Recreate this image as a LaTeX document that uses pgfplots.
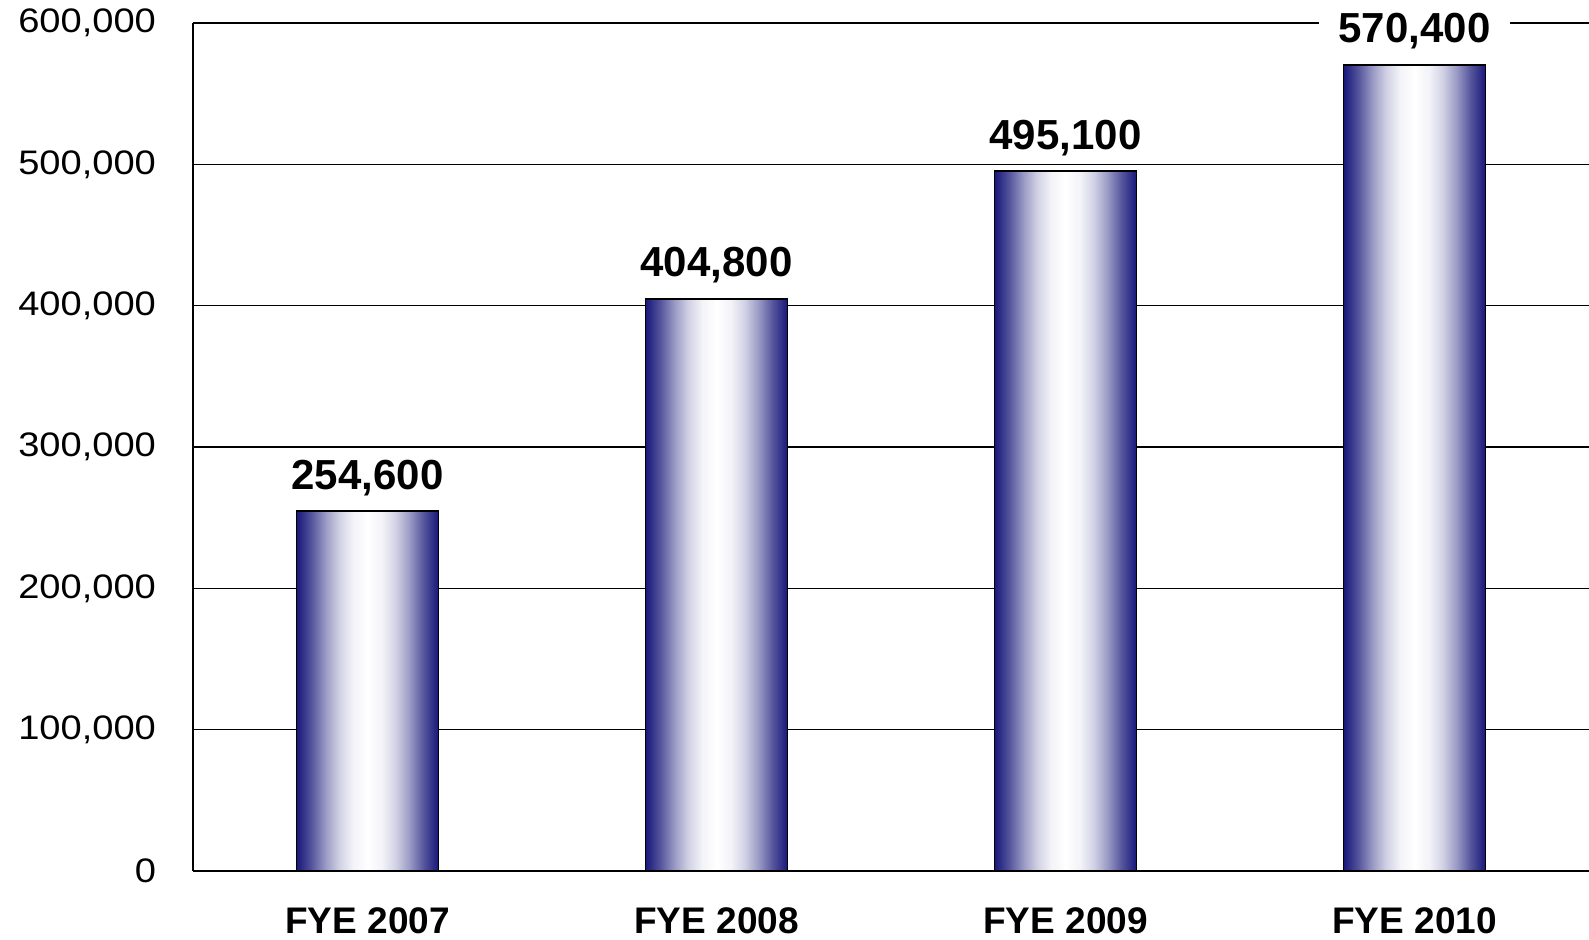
\documentclass[border=0pt]{standalone}
\usepackage{pgfplots}
\pgfplotsset{compat=1.18}
\usepackage{graphicx}
\usepackage{fontspec}
\setmainfont{Liberation Sans}

\definecolor{nv}{RGB}{24,24,122}
% navy at both edges of a bar, white down its middle
\pgfdeclarehorizontalshading{barshade}{100bp}{%
  color(0bp)=(nv); color(25bp)=(nv);
  color(30bp)=(nv!75!white); color(35bp)=(nv!45!white);
  color(40bp)=(nv!20!white); color(45bp)=(nv!5!white);
  color(50bp)=(white);
  color(55bp)=(nv!5!white); color(60bp)=(nv!20!white);
  color(65bp)=(nv!45!white); color(70bp)=(nv!75!white);
  color(75bp)=(nv); color(100bp)=(nv)}

\newcommand\wide[1]{\scalebox{1.12}[1]{#1}}

\begin{document}
\begin{tikzpicture}
\begin{axis}[
  at={(0,0)}, anchor=south west,
  scale only axis,
  width=698pt, height=424pt,
  xmin=0.5, xmax=4.5,
  ymin=0, ymax=600000,
  ytick={0,100000,...,600000},
  xtick={1,2,3,4},
  xticklabels={FYE 2007, FYE 2008, FYE 2009, FYE 2010},
  scaled y ticks=false,
  /pgf/number format/.cd, fixed, 1000 sep={,}, assume math mode=true,
  /pgfplots/.cd,
  yticklabel={\wide{\pgfmathprintnumber{\tick}}},
  axis x line*=bottom, axis y line*=left,
  axis line style={black, line width=1pt, -},
  ymajorgrids,
  grid style={black, line width=0.75pt},
  major tick length=0pt,
  yticklabel style={font=\fontsize{17}{19}\selectfont, xshift=-15pt},
  xticklabel style={font=\fontsize{18.5}{20}\selectfont\bfseries, anchor=base, yshift=-31.5pt},
  ybar, bar width=71pt, bar shift=0pt,
  clip=false,
  nodes near coords,
  every node near coord/.append style={
    font=\fontsize{21}{23}\selectfont\bfseries,
    anchor=base, yshift=11pt, fill=white, inner xsep=10pt, inner ysep=3pt,
    /pgf/number format/.cd, fixed, 1000 sep={,}},
  bar/.style={draw=black, line width=0.75pt, shading=barshade},
]
% one plot per bar, so that each bar gets its own shading
\addplot[bar] coordinates {(1,254600)};
\addplot[bar] coordinates {(2,404800)};
\addplot[bar] coordinates {(3,495100)};
\addplot[bar] coordinates {(4,570400)};
\end{axis}
\pgfresetboundingbox
\useasboundingbox (-96.5pt,-34.5pt) rectangle (698pt,435.5pt);
\end{tikzpicture}
\end{document}
